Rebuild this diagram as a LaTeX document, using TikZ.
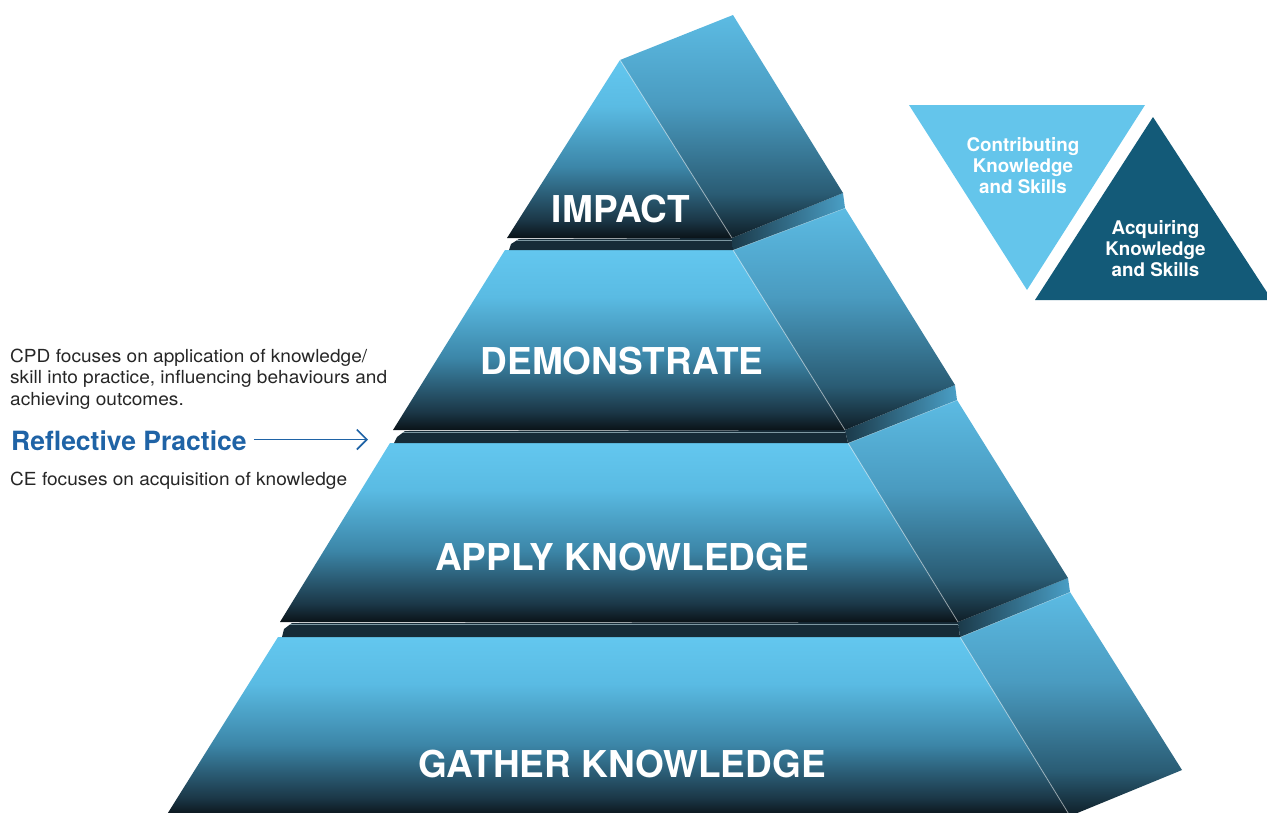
\documentclass[tikz,border=0pt]{standalone}
\usepackage{fontspec}
\setmainfont{TeX Gyre Heros}
\newfontfamily\bodyfont[FakeStretch=1.06]{TeX Gyre Heros}
\usetikzlibrary{arrows.meta}
\definecolor{fzero}{HTML}{63C7EF}
\definecolor{fone}{HTML}{5ABBE3}
\definecolor{ftwo}{HTML}{3C86A8}
\definecolor{fthree}{HTML}{1B3747}
\definecolor{fk}{HTML}{0A1318}
\definecolor{szero}{HTML}{5CBBE3}
\definecolor{sone}{HTML}{4A9BC0}
\definecolor{stwo}{HTML}{2A5C74}
\definecolor{sk}{HTML}{0F1E27}
\definecolor{slabdark}{HTML}{162B37}
\definecolor{slabline}{HTML}{7D97A1}
\definecolor{slabfront}{HTML}{1B3A4A}
\definecolor{slabback}{HTML}{4A9FC6}
\definecolor{trilight}{HTML}{64C5EB}
\definecolor{tridark}{HTML}{135A78}
\definecolor{rpblue}{HTML}{1F63A6}
\definecolor{bodytext}{HTML}{262626}
\pgfdeclareverticalshading{frontshade}{100bp}{color(0bp)=(fk); color(25bp)=(fk); color(30bp)=(fthree); color(45bp)=(ftwo); color(62bp)=(fone); color(75bp)=(fzero); color(100bp)=(fzero)}
\pgfdeclareverticalshading{sideshade}{100bp}{color(0bp)=(sk); color(25bp)=(sk); color(35bp)=(stwo); color(55bp)=(sone); color(75bp)=(szero); color(100bp)=(szero)}
\tikzset{
  frontface/.style={shade, shading=frontshade},
  sideface/.style={shade, shading=sideshade},
  slabf/.style={fill=slabdark},
  slabr/.style={left color=slabfront, right color=slabback},
  slabtop/.style={draw=slabline, line width=1.6pt},
  edgehl/.style={draw=white, draw opacity=0.45, line width=0.9pt},
  layerlabel/.style={text=white, font=\fontsize{37}{44}\selectfont\bfseries, inner sep=0pt, anchor=base},
  trilabel/.style={text=white, font=\fontsize{18.8}{21}\selectfont\bfseries, inner sep=0pt, anchor=base},
  bodylabel/.style={text=bodytext, font=\bodyfont\fontsize{18}{21}\selectfont, inner sep=0pt, anchor=base west},
  rplabel/.style={text=rpblue, font=\fontsize{26.5}{30}\selectfont\bfseries, inner sep=0pt, anchor=base west},
  rparrow/.style={draw=rpblue, line width=1.6pt, -{Straight Barb[length=10pt,width=20pt,line width=1.6pt]}}
}
\begin{document}
\begin{tikzpicture}[x=1pt,y=-1pt]
\useasboundingbox (0,0) rectangle (1267,812);
\clip (0,0) rectangle (1267,812);
% ---------- layer 4: GATHER KNOWLEDGE ----------
\path[frontface] (278,637) -- (960,637) -- (1070,816) -- (166,816) -- cycle;
\path[sideface] (960,637) -- (1070,592) -- (1182,770) -- (1070,816) -- cycle;
\path[edgehl] (960,637) -- (1070,816);
\path[edgehl] (960,637) -- (1070,592);
% slab 3-4
\path[slabf] (292,623) -- (284,629) -- (282,637) -- (960,637) -- (958,622) -- cycle;
\path[slabr] (958,622) -- (1068,578) -- (1070,592) -- (960,637) -- cycle;
\path[slabtop] (290,624.5) -- (958,624.5);
% ---------- layer 3: APPLY KNOWLEDGE ----------
\path[frontface] (390,443) -- (848,443) -- (958,622) -- (280,622) -- cycle;
\path[sideface] (848,443) -- (957,400) -- (1068,578) -- (958,622) -- cycle;
\path[edgehl] (848,443) -- (958,622);
\path[edgehl] (848,443) -- (957,400);
% slab 2-3
\path[slabf] (405,431) -- (397,437) -- (394,443) -- (848,443) -- (845,430) -- cycle;
\path[slabr] (845,430) -- (955,385) -- (957,400) -- (848,443) -- cycle;
\path[slabtop] (403,432.5) -- (845,432.5);
% ---------- layer 2: DEMONSTRATE ----------
\path[frontface] (505,250) -- (733,250) -- (845,430) -- (393,430) -- cycle;
\path[sideface] (733,250) -- (845,208) -- (955,385) -- (845,430) -- cycle;
\path[edgehl] (733,250) -- (845,430);
\path[edgehl] (733,250) -- (845,208);
% slab 1-2
\path[slabf] (519,239) -- (511,244) -- (509,250) -- (733,250) -- (732,238) -- cycle;
\path[slabr] (732,238) -- (843,193) -- (845,208) -- (733,250) -- cycle;
\path[slabtop] (517,240.5) -- (732,240.5);
% ---------- layer 1: IMPACT ----------
\path[frontface] (620,60) -- (732,238) -- (507,238) -- cycle;
\path[sideface] (620,60) -- (733,15) -- (843,193) -- (732,238) -- cycle;
\path[edgehl] (620,60) -- (732,238);
% ---------- layer labels ----------
\node[layerlabel] (impact) at (621,222) {IMPACT};
\node[layerlabel] (demo) at (622,374) {DEMONSTRATE};
\node[layerlabel] (apply) at (622,570) {APPLY KNOWLEDGE};
\node[layerlabel] (gather) at (622,777) {GATHER KNOWLEDGE};
% ---------- side triangles ----------
\path[fill=trilight] (909,105) -- (1145,105) -- (1027,290) -- cycle;
\path[fill=tridark] (1153,117) -- (1272,300) -- (1035,300) -- cycle;
\node[trilabel] (c1) at (1023,151) {Contributing};
\node[trilabel] (c2) at (1023,172.5) {Knowledge};
\node[trilabel] (c3) at (1023,193.5) {and Skills};
\node[trilabel] (a1) at (1155.5,234) {Acquiring};
\node[trilabel] (a2) at (1155.5,255.5) {Knowledge};
\node[trilabel] (a3) at (1155.5,276) {and Skills};
% ---------- left texts ----------
\node[bodylabel] (l1) at (10,362.5) {CPD focuses on application of knowledge/};
\node[bodylabel] (l2) at (10,383.5) {skill into practice, influencing behaviours and};
\node[bodylabel] (l3) at (10,405) {achieving outcomes.};
\node[rplabel] (rp) at (11,450.5) {Reflective Practice};
\coordinate (arrowend) at (368,439.5);
\draw[rparrow, shorten <=7pt] (rp.east |- arrowend) -- (arrowend);
\node[bodylabel] (ce) at (10,485) {CE focuses on acquisition of knowledge};
\end{tikzpicture}
\end{document}
